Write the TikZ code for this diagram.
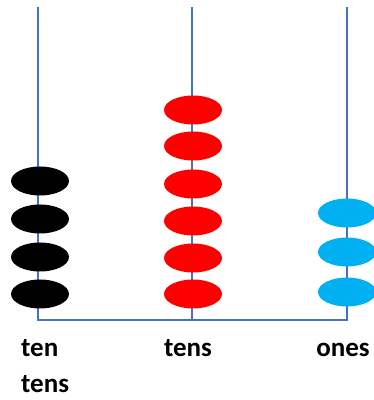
\documentclass[tikz,border=0pt]{standalone}
\usepackage{fontspec}
\setmainfont{Carlito}
\usetikzlibrary{shapes.geometric}
\definecolor{rodblue}{RGB}{68,114,196}
\definecolor{beadblue}{RGB}{0,176,240}
\tikzset{
  rod/.style = {draw=rodblue, line width=1.6pt},
  bead/.style = {ellipse, draw=none, minimum width=58pt, minimum height=29pt, inner sep=0pt},
  placename/.style = {font=\fontsize{27}{32}\selectfont\bfseries, inner sep=0pt}
}
\begin{document}
\begin{tikzpicture}[x=1pt, y=1pt]
    \useasboundingbox (0,0) rectangle (374,400);
    % rods and base
    \coordinate (tentop) at (38,393);
    \coordinate (tensstop) at (192,393);
    \coordinate (onestop) at (347,393);
    \coordinate (tenbase) at (38,80);
    \coordinate (tensbase) at (192,80);
    \coordinate (onesbase) at (347,80);
    \draw[rod] (tentop) -- (tenbase) -- (onesbase) -- (onestop);
    \draw[rod] (tensstop) -- (tensbase);
    % beads
    \foreach \y [count=\i] in {219,181,143,106}
        \node[bead, fill=black] (ten\i) at (40,\y) {};
    \foreach \y [count=\i] in {290,254,216,179,142,106}
        \node[bead, fill=red] (tens\i) at (193,\y) {};
    \foreach \y [count=\i] in {187,148,108}
        \node[bead, fill=beadblue] (ones\i) at (347,\y) {};
    % names
    \node[placename, anchor=base west] (tenname) at (21,43) {ten};
    \node[placename, anchor=base west] (tenname2) at (21,7) {tens};
    \node[placename, anchor=base] (tensname) at (188,43) {tens};
    \node[placename, anchor=base] (onesname) at (343,43) {ones};
\end{tikzpicture}
\end{document}
